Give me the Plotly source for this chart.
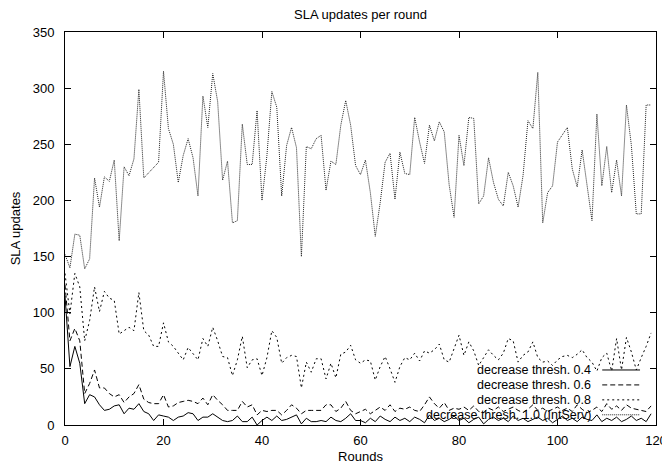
import plotly.graph_objects as go

rounds = list(range(0, 120))

thresh_04 = [115, 52, 70, 55, 19, 27, 25, 18, 13, 14,
             17, 18, 10, 15, 14, 19, 12, 10, 4, 9,
             8, 7, 4, 7, 8, 11, 10, 4, 7, 7,
             10, 7, 4, 3, 4, 8, 3, 3, 7, 0,
             4, 7, 4, 8, 4, 5, 7, 9, 1, 6,
             3, 3, 4, 3, 7, 4, 3, 6, 10, 4,
             4, 2, 6, 3, 8, 5, 3, 7, 4, 6,
             3, 7, 5, 2, 9, 4, 6, 3, 5, 8,
             4, 6, 2, 5, 7, 1, 5, 7, 4, 6,
             3, 8, 4, 6, 3, 5, 7, 4, 6, 2,
             5, 8, 4, 6, 3, 7, 5, 4, 9, 3,
             6, 4, 7, 3, 5, 8, 4, 6, 3, 10]

thresh_06 = [125, 75, 86, 75, 28, 37, 49, 33, 33, 28,
             25, 27, 20, 25, 28, 36, 23, 20, 19, 19,
             27, 16, 17, 20, 21, 22, 21, 19, 24, 18,
             27, 22, 18, 13, 13, 13, 21, 16, 18, 9,
             13, 12, 13, 13, 9, 13, 18, 15, 10, 13,
             13, 13, 13, 18, 18, 12, 15, 21, 13, 10,
             12, 14, 10, 13, 16, 13, 18, 12, 15, 14,
             16, 13, 12, 18, 25, 19, 15, 20, 13, 15,
             14, 16, 13, 17, 12, 11, 15, 13, 16, 12,
             14, 16, 13, 11, 14, 18, 13, 15, 12, 14,
             16, 13, 15, 12, 18, 14, 11, 13, 16, 12,
             19, 14, 17, 13, 18, 15, 14, 13, 12, 17]

thresh_08 = [135, 99, 135, 123, 75, 93, 123, 101, 119, 113,
             111, 81, 84, 87, 84, 118, 84, 80, 70, 70,
             91, 74, 70, 64, 58, 69, 64, 58, 77, 70,
             87, 75, 61, 60, 44, 58, 79, 51, 58, 59,
             44, 60, 84, 78, 55, 60, 62, 61, 33, 56,
             47, 59, 59, 41, 55, 42, 63, 65, 71, 58,
             55, 58, 57, 40, 52, 61, 50, 38, 52, 60,
             58, 64, 57, 66, 64, 67, 72, 58, 56, 68,
             80, 62, 74, 66, 53, 60, 67, 62, 58, 64,
             77, 75, 56, 62, 65, 74, 60, 56, 57, 53,
             58, 61, 62, 60, 63, 67, 60, 56, 48, 60,
             64, 48, 77, 49, 78, 65, 49, 60, 70, 82]

thresh_10 = [152, 140, 170, 169, 139, 148, 220, 194, 221, 217,
             236, 164, 230, 222, 237, 299, 220, 225, 230, 234,
             315, 264, 250, 216, 240, 255, 238, 204, 293, 265,
             313, 288, 218, 235, 180, 182, 268, 232, 232, 280,
             200, 240, 297, 283, 204, 249, 265, 247, 150, 248,
             246, 255, 258, 209, 235, 232, 267, 289, 267, 231,
             223, 236, 207, 168, 198, 234, 242, 201, 243, 224,
             223, 274, 252, 233, 267, 253, 270, 261, 214, 185,
             258, 231, 274, 273, 197, 204, 238, 216, 201, 195,
             225, 213, 194, 222, 271, 264, 314, 180, 207, 213,
             252, 258, 265, 228, 212, 245, 213, 182, 277, 213,
             248, 207, 236, 204, 285, 249, 188, 188, 285, 285]

series_names = ["decrease thresh. 0.4", "decrease thresh. 0.6",
                "decrease thresh. 0.8", "decrease thresh. 1.0 (IntServ)"]
series_values = [thresh_04, thresh_06, thresh_08, thresh_10]
dashes = ["solid", "5px,3px", "2px,3px", "1px,1px"]
colors = ["#000000", "#000000", "#000000", "#222222"]

x_ticks = [0, 20, 40, 60, 80, 100, 120]
y_ticks = [0, 50, 100, 150, 200, 250, 300, 350]

FONT = "Liberation Sans, Arial, Helvetica, sans-serif"
FS = 13
KEY_FS = 12.5

fig = go.Figure()
for name, vals, d, c in zip(series_names, series_values, dashes, colors):
    fig.add_trace(go.Scatter(x=rounds, y=vals, mode="lines", name=name,
                             line=dict(color=c, width=1, dash=d),
                             showlegend=False))

# gnuplot-style key: right-aligned text with line samples to the right
key_y = [0.140, 0.102, 0.064, 0.026]
for name, d, c, ky in zip(series_names, dashes, colors, key_y):
    fig.add_annotation(x=0.894, y=ky, xref="paper", yref="paper",
                       text=name, showarrow=False, xanchor="right",
                       yanchor="middle",
                       font=dict(size=KEY_FS, color="black", family=FONT))
    fig.add_shape(type="line", xref="paper", yref="paper",
                  x0=0.909, x1=0.973, y0=ky, y1=ky,
                  line=dict(color=c, width=1, dash=d))

axis_common = dict(showline=True, linecolor="black", linewidth=1, mirror="ticks",
                   ticks="inside", ticklen=6, tickcolor="black", tickwidth=1,
                   showgrid=False, zeroline=False, automargin=False,
                   tickfont=dict(size=FS, color="black", family=FONT))

fig.update_layout(
    width=662, height=460,
    margin=dict(l=57, r=14, t=24, b=43),
    paper_bgcolor="white", plot_bgcolor="white",
    font=dict(family=FONT, size=FS, color="black"),
    title=dict(text="SLA updates per round", x=0.5, xref="paper",
               y=1 - 6 / 460, yref="container", yanchor="middle",
               font=dict(size=FS, color="black", family=FONT)),
    xaxis=dict(range=[0, 120], tickvals=x_ticks, ticklabelstandoff=3,
               title=dict(text="Rounds", standoff=5, font=dict(size=FS)),
               **axis_common),
    yaxis=dict(range=[0, 350], tickvals=y_ticks, ticklabelstandoff=7,
               title=dict(text="SLA updates", standoff=9, font=dict(size=FS)),
               **axis_common),
)

fig.write_html("out.html")
